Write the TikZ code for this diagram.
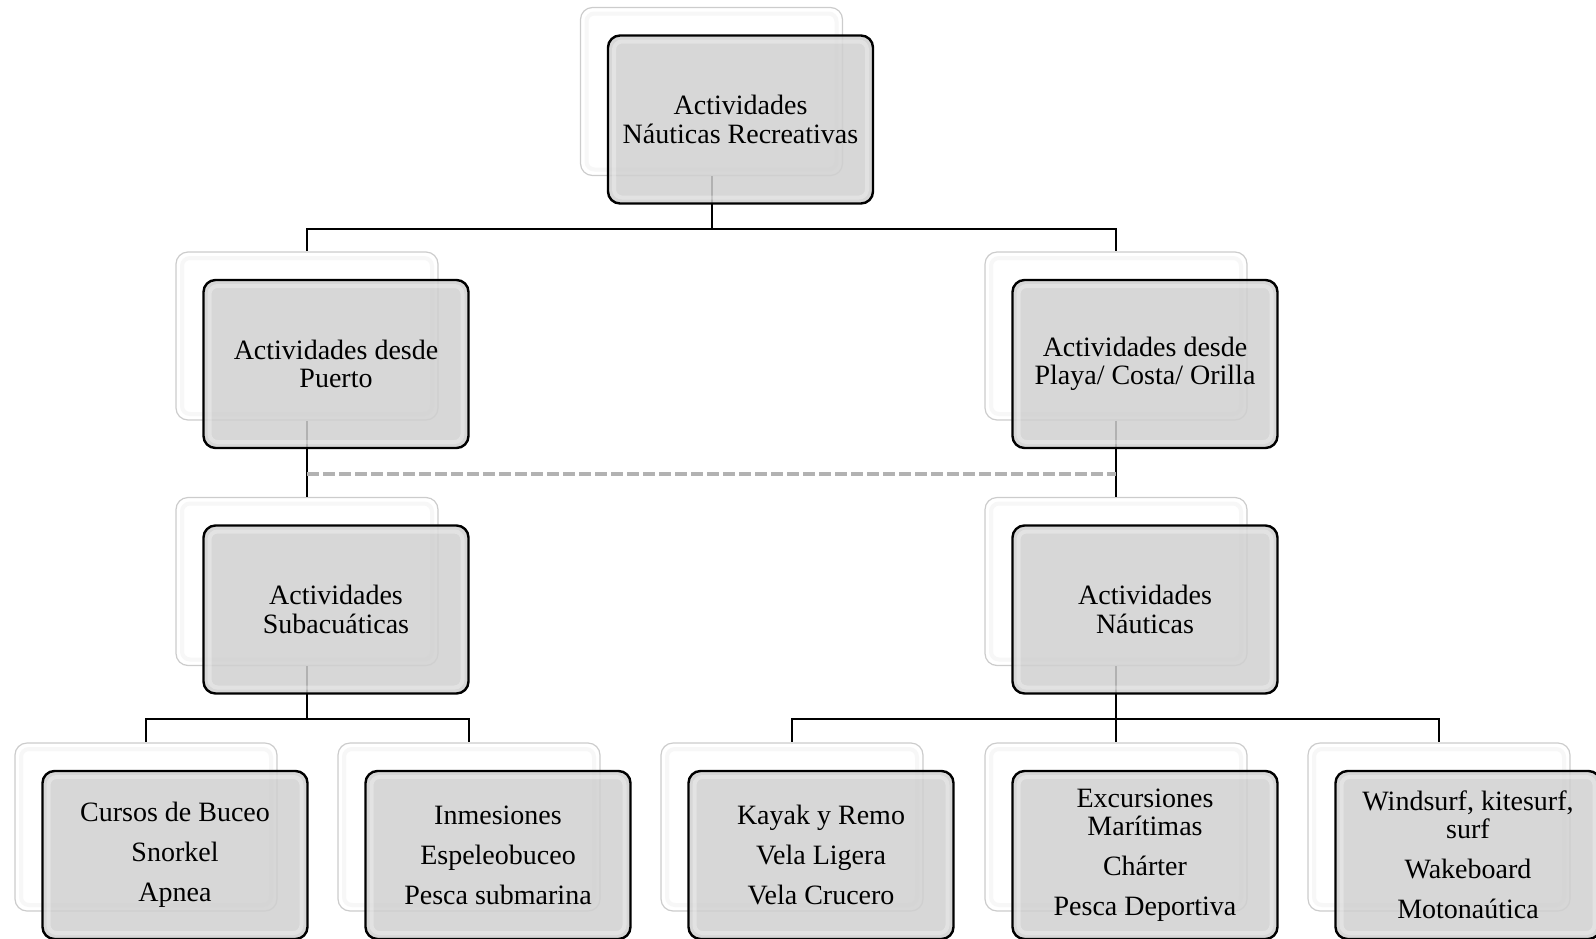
\documentclass[tikz,border=0pt]{standalone}
\usepackage{fontspec}
\setmainfont{Liberation Serif}
\tikzset{fr/.style = {rounded corners=6pt, line width=1.2pt, draw=black, fill=gray!37, fill opacity=.85, text opacity=1,
                      minimum width=132.5pt, minimum height=84pt, inner sep=0pt, align=center,
                      font=\fontsize{14}{14.25}\selectfont,
                      path picture={\draw[white, draw opacity=.3, line width=2pt, rounded corners=4pt]
                        ([shift={(3pt,3pt)}]path picture bounding box.south west) rectangle
                        ([shift={(-3pt,-3pt)}]path picture bounding box.north east);}},
           bk/.style = {rounded corners=6pt, line width=.6pt, draw=gray!40, fill=white,
                      minimum width=131pt, minimum height=84pt, inner sep=0pt,
                      path picture={\draw[gray!6, line width=2pt, rounded corners=4pt]
                        ([shift={(3pt,3pt)}]path picture bounding box.south west) rectangle
                        ([shift={(-3pt,-3pt)}]path picture bounding box.north east);}},
           ln/.style = {line width=1pt, black},
           ds/.style = {line width=2pt, gray!60, dash pattern=on 6pt off 2pt}}

\begin{document}
\begin{tikzpicture}[x=0.5pt, y=-0.5pt]
    \useasboundingbox (0,0) rectangle (1596,938);
    % back boxes
    \node[bk] (raizb)   at (711.5,91.5) {};
    \node[bk] (puertob) at (307,336) {};   \node[bk] (playab)  at (1116,336) {};
    \node[bk] (subacb)  at (307,581.5) {}; \node[bk] (nauticb) at (1116,581.5) {};
    \node[bk] (buceob)  at (146,827) {};   \node[bk] (inmerb)  at (469,827) {};
    \node[bk] (kayakb)  at (792,827) {};   \node[bk] (excurb)  at (1116,827) {};
    \node[bk] (windb)   at (1439,827) {};
    % connectors
    \draw[ln] (raizb.south) -- ++(0,52.5) -| (puertob.north);
    \draw[ln] (raizb.south) -- ++(0,52.5) -| (playab.north);
    \draw[ln] (puertob.south) -- (subacb.north);
    \draw[ln] (playab.south) -- (nauticb.north);
    \draw[ds] ([yshift=-26.5pt]puertob.south) -- ([yshift=-26.5pt]playab.south);
    \draw[ln] (subacb.south) -- ++(0,53) -| (buceob.north);
    \draw[ln] (subacb.south) -- ++(0,53) -| (inmerb.north);
    \draw[ln] (nauticb.south) -- ++(0,53) -| (kayakb.north);
    \draw[ln] (nauticb.south) -- (excurb.north);
    \draw[ln] (nauticb.south) -- ++(0,53) -| (windb.north);
    % front boxes
    \node[fr] (raiz)   at ([shift={(29,28)}]raizb)   {Actividades\\Náuticas Recreativas};
    \node[fr] (puerto) at ([shift={(29,28)}]puertob) {Actividades desde\\Puerto};
    \node[fr] (playa)  at ([shift={(29,28)}]playab)  {Actividades desde\\Playa/ Costa/ Orilla};
    \node[fr] (subac)  at ([shift={(29,28)}]subacb)  {Actividades\\Subacuáticas};
    \node[fr] (nautic) at ([shift={(29,28)}]nauticb) {Actividades\\Náuticas};
    \node[fr] (buceo)  at ([shift={(29,28)}]buceob)  {Cursos de Buceo\\[5.75pt]Snorkel\\[5.75pt]Apnea};
    \node[fr] (inmer)  at ([shift={(29,28)}]inmerb)  {Inmesiones\\[5.75pt]Espeleobuceo\\[5.75pt]Pesca submarina};
    \node[fr] (kayak)  at ([shift={(29,28)}]kayakb)  {Kayak y Remo\\[5.75pt]Vela Ligera\\[5.75pt]Vela Crucero};
    \node[fr] (excur)  at ([shift={(29,28)}]excurb)  {Excursiones\\Marítimas\\[5.75pt]Chárter\\[5.75pt]Pesca Deportiva};
    \node[fr] (wind)   at ([shift={(29,28)}]windb)   {Windsurf, kitesurf,\\surf\\[5.75pt]Wakeboard\\[5.75pt]Motonaútica};
\end{tikzpicture}
\end{document}
